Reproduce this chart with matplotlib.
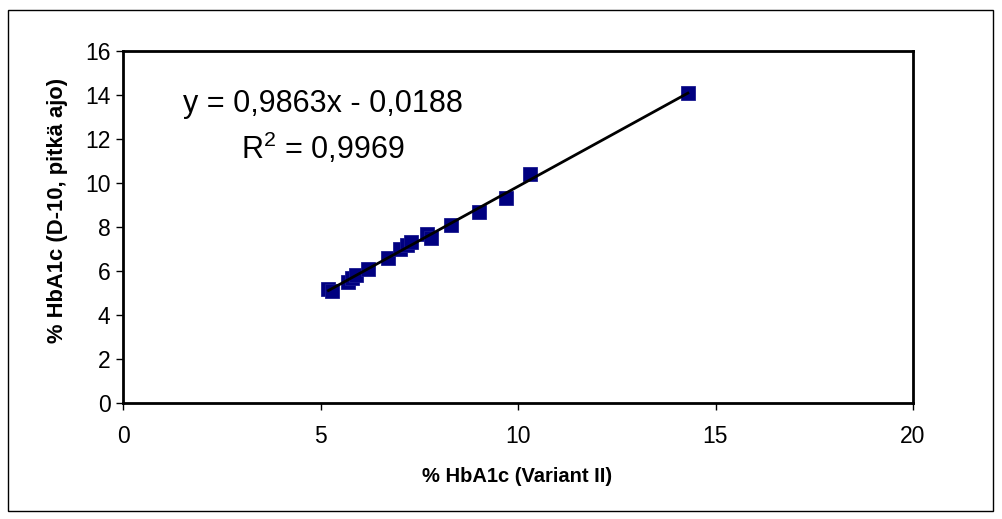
import matplotlib
matplotlib.use("Agg")
import matplotlib.pyplot as plt
from matplotlib.patches import Rectangle

# Data
variant_x = [5.2, 5.3, 5.7, 5.8, 5.9, 6.2, 6.7, 7.0, 7.2, 7.3, 7.7, 7.8, 8.3, 9.0, 9.7, 10.3, 14.3]
d10_y = [5.2, 5.1, 5.5, 5.7, 5.8, 6.1, 6.6, 7.0, 7.2, 7.3, 7.7, 7.5, 8.1, 8.7, 9.3, 10.4, 14.1]
slope = 0.9863
intercept = -0.0188
eq_text = "y = 0,9863x - 0,0188"
r2_text = "R$^2$ = 0,9969"
x_ticks = [0, 5, 10, 15, 20]
y_ticks = [0, 2, 4, 6, 8, 10, 12, 14, 16]
x_label = "% HbA1c (Variant II)"
y_label = "% HbA1c (D-10, pitkä ajo)"

plt.rcParams['font.family'] = ['Liberation Sans', 'DejaVu Sans']
plt.rcParams['mathtext.fontset'] = 'custom'
plt.rcParams['mathtext.rm'] = 'Liberation Sans'

W, H = 1002, 519
fig = plt.figure(figsize=(W / 100, H / 100), dpi=100)
fig.patch.set_facecolor('white')
fig.patches.append(Rectangle((8 / W, 1 - 511 / H), (993 - 8) / W, (511 - 10) / H,
                             transform=fig.transFigure, fill=False,
                             edgecolor='black', linewidth=1.0))

ax = fig.add_axes([123 / W, 1 - 403 / H, (913 - 123) / W, (403 - 51) / H])
ax.set_xlim(0, 20)
ax.set_ylim(0, 16)

xmin, xmax = min(variant_x), max(variant_x)
ax.plot([xmin, xmax], [slope * xmin + intercept, slope * xmax + intercept],
        color='black', linewidth=2.0, zorder=3)
ax.plot(variant_x, d10_y, linestyle='none', marker='s', markersize=10.3,
        markerfacecolor='#000080', markeredgecolor='#1a1a90', markeredgewidth=0.6,
        zorder=2)

ax.set_xticks(x_ticks)
ax.set_yticks(y_ticks)
ax.tick_params(axis='both', direction='out', length=5, width=1, labelsize=16.5, color='black')
ax.tick_params(axis='x', pad=11)
ax.tick_params(axis='y', pad=4)
for s in ax.spines.values():
    s.set_linewidth(2.0)
    s.set_color('black')

fig.text(517 / W, 1 - 477 / H, x_label, fontsize=14.5, fontweight='bold',
         ha='center', va='center')
fig.text(57 / W, 1 - 210 / H, y_label, fontsize=15.8, fontweight='bold',
         ha='center', va='center', rotation=90)

ax.text((323 - 123) / (913 - 123) * 20, 16 * (403 - 104) / (403 - 51),
        eq_text, fontsize=22, ha='center', va='center')
ax.text((323 - 123) / (913 - 123) * 20, 16 * (403 - 148) / (403 - 51),
        r2_text, fontsize=22, ha='center', va='center')

fig.savefig('out.png', dpi=100)
